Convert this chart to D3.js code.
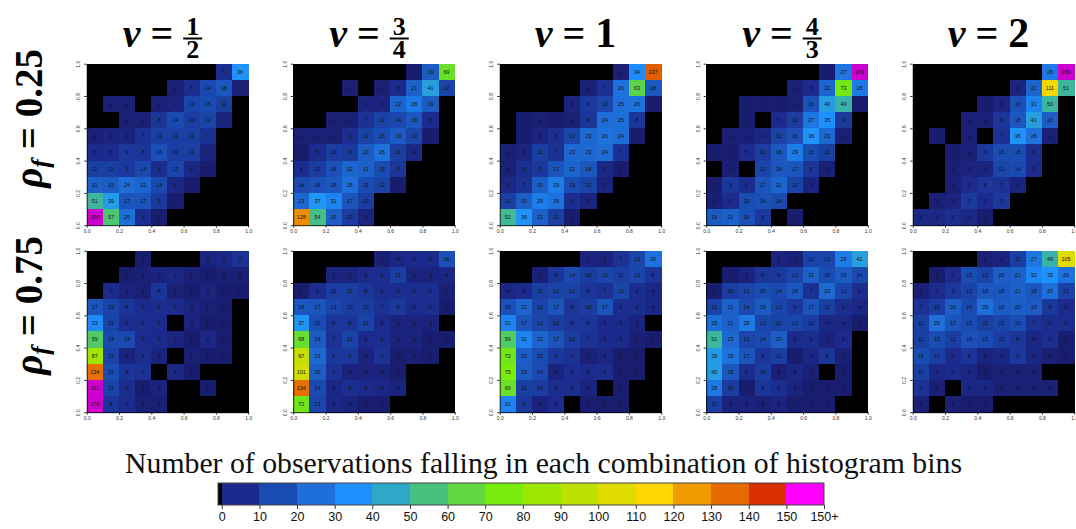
<!DOCTYPE html>
<html>
<head>
<meta charset="utf-8">
<script src="https://cdn.jsdelivr.net/npm/d3@7"></script>
<style>
  body { margin: 0; background: #fff; }
  svg { display: block; }
</style>
</head>
<body>
<svg id="chart" width="1076" height="529"></svg>
<script>
// Counts per 10x10 histogram-bin combination.
// Each grid lists rows from the top bin (y 0.9–1.0) down to the bottom bin (y 0.0–0.1),
// and columns from x 0.0–0.1 to x 0.9–1.0.

const rho025_vHalf = [
  [0,0,0,0,0,0,0,0,6,36],
  [0,0,0,0,0,2,6,14,18,2],
  [0,2,2,0,2,3,13,15,11,0],
  [0,0,2,2,8,14,10,12,3,0],
  [2,3,3,7,11,11,11,7,0,0],
  [5,5,9,8,16,10,11,3,0,0],
  [11,11,9,14,6,13,4,1,0,0],
  [21,19,24,22,14,4,1,0,0,0],
  [51,39,17,17,9,1,0,0,0,0],
  [200,57,25,6,1,0,0,0,0,0]
];
const rho025_vThreeQuarter = [
  [0,0,0,0,0,0,0,1,19,69],
  [0,0,0,2,0,2,5,21,41,12],
  [0,0,0,0,3,3,22,28,19,0],
  [0,0,2,2,7,12,14,18,5,0],
  [2,2,2,6,12,15,19,13,1,0],
  [1,5,10,9,20,26,11,4,0,0],
  [6,10,16,22,21,15,8,0,0,0],
  [14,16,18,25,15,12,1,0,0,0],
  [23,37,31,17,10,0,0,0,0,0],
  [128,54,20,10,3,0,0,0,0,0]
];
const rho025_vOne = [
  [0,0,0,0,0,0,0,2,34,137],
  [0,0,0,0,0,2,7,26,63,18],
  [0,0,0,0,3,9,13,25,26,1],
  [0,1,2,1,2,8,24,25,8,0],
  [0,1,3,6,13,23,26,24,1,0],
  [2,3,11,7,23,23,24,7,0,0],
  [2,6,9,17,22,18,4,1,0,0],
  [4,7,20,29,15,12,3,0,0,0],
  [11,20,29,26,6,3,0,0,0,0],
  [52,36,21,11,1,0,0,0,0,0]
];
const rho025_vFourThirds = [
  [0,0,0,0,0,0,0,1,27,209],
  [0,0,0,0,0,2,5,22,73,28],
  [0,0,1,1,1,2,16,40,49,1],
  [0,0,1,0,5,10,27,35,9,0],
  [0,2,2,4,12,16,36,23,2,0],
  [1,1,5,10,18,29,15,11,0,0],
  [0,2,0,13,18,17,8,2,0,0],
  [1,9,6,17,22,12,3,0,0,0],
  [2,5,15,16,14,0,0,0,0,0],
  [19,21,16,9,0,1,0,0,0,0]
];
const rho025_vTwo = [
  [0,0,0,0,0,0,0,0,28,209],
  [0,0,0,0,0,0,3,22,111,51],
  [0,0,0,0,1,3,16,31,50,0],
  [0,0,0,2,2,8,18,41,20,0],
  [0,1,0,2,0,7,36,26,2,0],
  [0,0,1,2,9,15,15,6,0,0],
  [0,0,2,3,3,13,14,5,0,0],
  [0,0,2,5,8,7,3,0,0,0],
  [0,2,3,9,5,9,0,0,0,0],
  [4,4,6,4,1,0,0,0,0,0]
];
const rho075_vHalf = [
  [0,0,0,1,0,0,0,3,4,7],
  [0,0,1,2,3,4,2,1,2,2],
  [0,5,3,2,8,2,1,3,1,1],
  [17,12,8,5,6,5,3,2,1,0],
  [33,12,6,6,5,0,3,1,1,0],
  [59,14,14,5,5,3,1,4,1,0],
  [87,12,3,6,3,0,2,1,1,0],
  [134,15,8,7,0,4,1,0,0,0],
  [211,12,6,1,3,0,0,1,0,0],
  [175,8,5,2,2,0,0,0,0,0]
];
const rho075_vThreeQuarter = [
  [0,0,0,0,0,2,4,5,5,16],
  [0,0,3,3,5,6,11,3,3,4],
  [1,6,10,11,8,6,6,6,6,2],
  [18,17,13,10,10,7,9,5,6,1],
  [37,15,8,8,12,5,3,3,3,0],
  [68,19,7,12,5,6,3,3,1,1],
  [97,23,9,9,3,7,1,2,1,0],
  [101,20,7,3,3,3,1,0,0,0],
  [134,14,4,6,5,4,3,0,0,0],
  [72,13,4,3,1,1,0,0,0,0]
];
const rho075_vOne = [
  [0,0,0,0,0,3,3,7,13,26],
  [0,0,2,8,14,10,13,11,13,8],
  [4,5,11,12,12,8,7,13,6,4],
  [16,22,12,17,8,10,17,6,6,4],
  [31,17,13,10,8,8,5,5,3,0],
  [59,31,22,17,10,7,5,5,2,1],
  [72,20,15,9,7,2,4,1,1,0],
  [75,19,14,3,6,5,6,1,1,0],
  [69,11,10,6,6,3,0,1,0,0],
  [31,9,3,5,0,1,1,1,0,0]
];
const rho075_vFourThirds = [
  [0,0,0,0,3,2,12,13,29,41],
  [0,1,3,8,9,13,21,15,19,14],
  [1,10,13,15,14,18,7,23,13,6],
  [12,21,14,19,13,9,17,11,6,4],
  [25,21,28,13,12,13,10,4,4,1],
  [51,23,13,14,20,5,6,3,5,0],
  [39,26,17,8,11,1,4,8,2,0],
  [40,18,6,10,2,4,2,0,1,0],
  [28,10,1,8,6,3,1,1,1,0],
  [11,3,3,2,3,1,1,1,0,0]
];
const rho075_vTwo = [
  [0,0,0,0,2,3,11,27,49,105],
  [0,1,5,15,12,20,21,32,35,26],
  [2,5,9,12,18,18,21,18,25,12],
  [7,10,20,14,25,19,20,19,9,5],
  [11,25,17,15,11,13,15,7,6,6],
  [11,15,11,16,15,10,8,4,6,1],
  [15,11,5,8,3,4,9,4,2,1],
  [11,4,5,4,1,2,2,2,0,0],
  [7,2,0,4,4,2,2,2,2,0],
  [2,0,2,1,1,0,0,0,0,0]
];

// Column headings (v) and row headings (rho_f)
const vLabels = [
  { num: "1", den: "2" },
  { num: "3", den: "4" },
  { whole: "1" },
  { num: "4", den: "3" },
  { whole: "2" }
];
const rhoLabels = ["0.25", "0.75"];

// Colour key classes of width 10, last class 150+
const binBreaks = [0, 10, 20, 30, 40, 50, 60, 70, 80, 90, 100, 110, 120, 130, 140, 150];
const binColors = [
  "#1b2a8c", "#1a4db3", "#1e6fd9", "#1e90ff", "#2fa8c8", "#48c080",
  "#60d840", "#78ec0a", "#9de600", "#bde000", "#e0dc00", "#ffd700",
  "#f09a00", "#e56a00", "#d83000", "#ff00ff"
];
const lowColor = "#191a68";
const overColor = "#cd00cd";
const legendTicks = [0, 10, 20, 30, 40, 50, 60, 70, 80, 90, 100, 110, 120, 130, 140, 150, 160];
const legendTickLabels = ["0","10","20","30","40","50","60","70","80","90","100","110","120","130","140","150","150+"];
const axisTicks = [0, 0.2, 0.4, 0.6, 0.8, 1.0];

const grids = [
  [rho025_vHalf, rho025_vThreeQuarter, rho025_vOne, rho025_vFourThirds, rho025_vTwo],
  [rho075_vHalf, rho075_vThreeQuarter, rho075_vOne, rho075_vFourThirds, rho075_vTwo]
];

const svg = d3.select("#chart");
svg.append("rect").attr("width", 1076).attr("height", 529).attr("fill", "#fff");

// cell colour: empty cells black, counts ramp through the key colours
// (each key colour sits at the middle of its class); counts above 150 in deep magenta
const ramp = d3.scaleLinear()
  .domain([0, ...binBreaks.slice(0, 15).map(b => b + 5), 150])
  .range([lowColor, ...binColors.slice(0, 15), "#d02000"])
  .interpolate(d3.interpolateRgb)
  .clamp(true);
const cellColor = v => v === 0 ? "#000000" : (v > 150 ? overColor : ramp(v));

// layout
const panelSize = 161.5;
const panelLeft0 = 86.7, panelStep = 206.5;
const panelTops = [63.7, 250.7];
const nBins = 10;

const x = d3.scaleLinear().domain([0, 1]).range([0, panelSize]);
const y = d3.scaleLinear().domain([0, 1]).range([panelSize, 0]);

grids.forEach((rowGrids, ri) => {
  rowGrids.forEach((grid, ci) => {
    const g = svg.append("g")
      .attr("transform", `translate(${panelLeft0 + ci * panelStep},${panelTops[ri]})`);

    const cells = grid.flatMap((row, r) => row.map((v, c) => ({
      v, x0: c / nBins, y0: (nBins - 1 - r) / nBins
    })));

    g.selectAll("rect.cell").data(cells).join("rect")
      .attr("class", "cell")
      .attr("x", d => x(d.x0))
      .attr("y", d => y(d.y0 + 1 / nBins))
      .attr("width", x(1 / nBins) - x(0) + 0.4)
      .attr("height", y(0) - y(1 / nBins) + 0.4)
      .attr("fill", d => cellColor(d.v))
      .attr("shape-rendering", "crispEdges");

    g.selectAll("text.count").data(cells.filter(d => d.v > 0)).join("text")
      .attr("class", "count")
      .attr("x", d => x(d.x0 + 0.5 / nBins))
      .attr("y", d => y(d.y0 + 0.5 / nBins))
      .attr("dy", "0.35em")
      .attr("text-anchor", "middle")
      .attr("font-family", "Liberation Sans, Arial, sans-serif")
      .attr("font-size", 5.4)
      .attr("fill", "#111")
      .text(d => d.v);

    // bottom axis
    const xa = g.append("g")
      .attr("transform", `translate(0,${panelSize})`)
      .call(d3.axisBottom(x).tickValues(axisTicks).tickFormat(d3.format(".1f")).tickSize(2.5).tickSizeOuter(0));
    xa.selectAll("text").attr("font-size", 5).attr("font-family", "Liberation Sans, Arial, sans-serif")
      .attr("fill", "#333").attr("y", 4.5);

    // left axis with rotated labels
    const ya = g.append("g")
      .call(d3.axisLeft(y).tickValues(axisTicks).tickFormat(d3.format(".1f")).tickSize(2.5).tickSizeOuter(0));
    ya.selectAll(".tick text")
      .attr("font-size", 5).attr("font-family", "Liberation Sans, Arial, sans-serif")
      .attr("fill", "#333")
      .attr("x", null).attr("dy", null)
      .attr("text-anchor", "middle")
      .attr("transform", "translate(-6.5,0) rotate(-90)");
    g.selectAll(".domain").attr("stroke", "#000").attr("stroke-width", 0.8);
    g.selectAll(".tick line").attr("stroke", "#000").attr("stroke-width", 0.8);
  });
});

// column headings: bold italic v, "=", then a fraction or a whole number
const serif = "Liberation Serif, Times New Roman, serif";
vLabels.forEach((lab, ci) => {
  const cx = panelLeft0 + ci * panelStep + panelSize / 2 - 5;
  const g = svg.append("g");
  const base = 47;
  let cursor = 0;
  const tv = g.append("text").attr("x", cursor).attr("y", base)
    .attr("font-family", serif).attr("font-size", 40).attr("font-weight", "bold")
    .attr("font-style", "italic").text("v");
  cursor += tv.node().getComputedTextLength() + 10;
  const te = g.append("text").attr("x", cursor).attr("y", base)
    .attr("font-family", serif).attr("font-size", 40).attr("font-weight", "bold").text("=");
  cursor += te.node().getComputedTextLength() + 10;
  if (lab.whole) {
    const tw = g.append("text").attr("x", cursor).attr("y", base)
      .attr("font-family", serif).attr("font-size", 42).attr("font-weight", "bold").text(lab.whole);
    cursor += tw.node().getComputedTextLength();
  } else {
    const fw = 17;
    const fc = cursor + fw / 2 + 1;
    g.append("text").attr("x", fc).attr("y", 35).attr("text-anchor", "middle")
      .attr("font-family", serif).attr("font-size", 26).attr("font-weight", "bold").text(lab.num);
    g.append("line").attr("x1", cursor).attr("x2", cursor + fw + 2)
      .attr("y1", 38.5).attr("y2", 38.5).attr("stroke", "#000").attr("stroke-width", 2);
    g.append("text").attr("x", fc).attr("y", 57.5).attr("text-anchor", "middle")
      .attr("font-family", serif).attr("font-size", 26).attr("font-weight", "bold").text(lab.den);
    cursor += fw + 2;
  }
  g.attr("transform", `translate(${cx - cursor / 2},0)`);
});

// row headings, rotated
rhoLabels.forEach((lab, ri) => {
  const cy = panelTops[ri] + panelSize / 2 - 26;
  const t = svg.append("text")
    .attr("transform", `translate(42,${cy}) rotate(-90)`)
    .attr("text-anchor", "middle")
    .attr("font-family", serif).attr("font-size", 39).attr("font-weight", "bold");
  t.append("tspan").attr("font-style", "italic").text("ρ");
  t.append("tspan").attr("font-style", "italic").attr("font-size", 26).attr("dy", 7).text("f");
  t.append("tspan").attr("dy", -7).text(" = " + lab);
});

// colour key
const keyTitle = svg.append("text")
  .attr("x", 543.5).attr("y", 473)
  .attr("text-anchor", "middle")
  .attr("font-family", serif).attr("font-size", 26)
  .attr("fill", "#111")
  .text("Number of observations falling in each combination of histogram bins");
{
  const w = keyTitle.node().getComputedTextLength();
  keyTitle.attr("font-size", 26 * 837 / w);
}

const kx = d3.scaleLinear().domain([-1, 160]).range([218, 824]);
const keyTop = 483, keyH = 22;
const keyBins = [{ lo: -1, hi: 0, c: "#000000" }]
  .concat(binColors.map((c, i) => ({ lo: i * 10, hi: (i + 1) * 10, c })));
svg.append("g").selectAll("rect").data(keyBins).join("rect")
  .attr("x", d => kx(d.lo)).attr("y", keyTop)
  .attr("width", d => kx(d.hi) - kx(d.lo) + 0.3).attr("height", keyH)
  .attr("fill", d => d.c).attr("shape-rendering", "crispEdges");
svg.append("rect").attr("x", kx(-1)).attr("y", keyTop)
  .attr("width", kx(160) - kx(-1)).attr("height", keyH)
  .attr("fill", "none").attr("stroke", "#444").attr("stroke-width", 1);

const keyAxis = svg.append("g").attr("transform", `translate(0,${keyTop + keyH})`)
  .call(d3.axisBottom(kx).tickValues(legendTicks)
    .tickFormat((d, i) => legendTickLabels[i]).tickSize(4).tickSizeOuter(0));
keyAxis.select(".domain").remove();
keyAxis.selectAll("text").attr("font-family", "Liberation Sans, Arial, sans-serif")
  .attr("font-size", 12.5).attr("fill", "#111").attr("y", 7);
keyAxis.selectAll("line").attr("stroke", "#333");
</script>
</body>
</html>
